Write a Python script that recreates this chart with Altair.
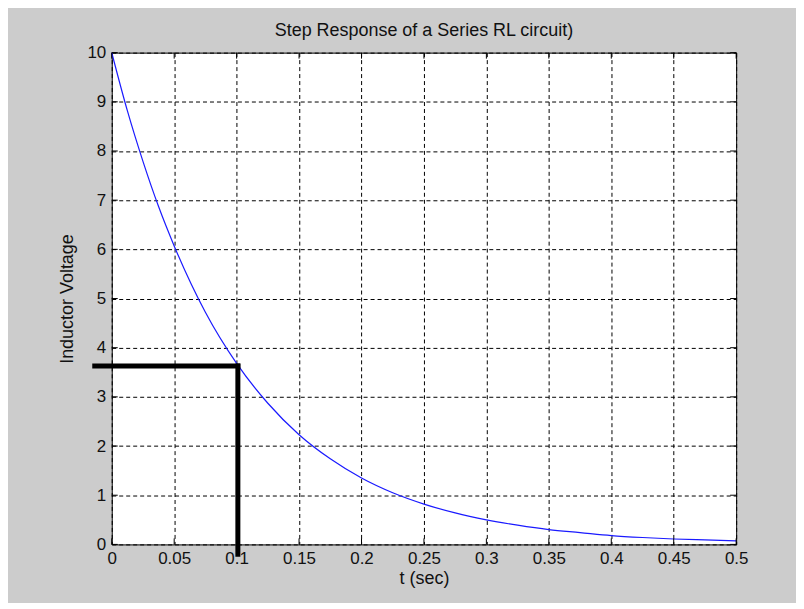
import altair as alt
import pandas as pd

# curve values
t_vals = [0, 0.0125, 0.025, 0.0375, 0.05, 0.075, 0.1, 0.125, 0.15, 0.175, 0.2, 0.225, 0.25,
          0.275, 0.3, 0.325, 0.35, 0.375, 0.4, 0.425, 0.45, 0.475, 0.5]
v_vals = [10, 8.82, 7.79, 6.87, 6.07, 4.72, 3.68, 2.87, 2.23, 1.74, 1.35, 1.05, 0.82,
          0.64, 0.50, 0.39, 0.30, 0.24, 0.18, 0.14, 0.11, 0.09, 0.07]

# thick black marker lines
seg_x = [-0.0136, 0.101]
seg_x2 = [0.101, 0.101]
seg_y = [3.63, 3.63]
seg_y2 = [3.63, -0.2]

x_ticks = [0, 0.05, 0.1, 0.15, 0.2, 0.25, 0.3, 0.35, 0.4, 0.45, 0.5]
y_ticks = [0, 1, 2, 3, 4, 5, 6, 7, 8, 9, 10]

FONT = "Liberation Sans"
LABEL_SIZE = 17
TITLE_SIZE = 18

curve = pd.DataFrame({"t": t_vals, "v": v_vals})
segs = pd.DataFrame({"x": seg_x, "x2": seg_x2, "y": seg_y, "y2": seg_y2})
xt = pd.DataFrame({"t": x_ticks})
yt = pd.DataFrame({"v": y_ticks})

xs = alt.Scale(domain=[0, 0.5], nice=False, zero=False)
ys = alt.Scale(domain=[0, 10], nice=False, zero=False)

line = alt.Chart(curve).mark_line(color="#1a1aff", strokeWidth=1.2, interpolate="monotone").encode(
    x=alt.X("t:Q", scale=xs, title="t (sec)",
            axis=alt.Axis(values=x_ticks, format="~g", grid=True, gridDash=[4, 3],
                          gridColor="black", gridOpacity=1, gridWidth=1,
                          ticks=False, domain=False, labelPadding=6, labelFlush=False,
                          labelFontSize=LABEL_SIZE, labelColor="#111", labelFont=FONT,
                          titleFontSize=TITLE_SIZE, titleFont=FONT, titleFontWeight="normal",
                          titleColor="#111", titlePadding=3)),
    y=alt.Y("v:Q", scale=ys, title="Inductor Voltage",
            axis=alt.Axis(values=y_ticks, grid=True, gridDash=[4, 3],
                          gridColor="black", gridOpacity=1, gridWidth=1,
                          ticks=False, domain=False, labelPadding=6, labelFlush=False,
                          labelFontSize=LABEL_SIZE, labelColor="#111", labelFont=FONT,
                          titleFontSize=TITLE_SIZE, titleFont=FONT, titleFontWeight="normal",
                          titleColor="#111", titlePadding=10)),
)

# inside tick marks (bottom/top and left/right)
xt_bottom = alt.Chart(xt).mark_rule(color="black", strokeWidth=1).encode(
    x=alt.X("t:Q", scale=xs), y=alt.value(493), y2=alt.value(487))
xt_top = alt.Chart(xt).mark_rule(color="black", strokeWidth=1).encode(
    x=alt.X("t:Q", scale=xs), y=alt.value(0), y2=alt.value(6))
yt_left = alt.Chart(yt).mark_rule(color="black", strokeWidth=1).encode(
    y=alt.Y("v:Q", scale=ys), x=alt.value(0), x2=alt.value(6))
yt_right = alt.Chart(yt).mark_rule(color="black", strokeWidth=1).encode(
    y=alt.Y("v:Q", scale=ys), x=alt.value(626), x2=alt.value(620))

marks = alt.Chart(segs).mark_rule(color="black", strokeWidth=5, clip=False, strokeCap="square").encode(
    x=alt.X("x:Q", scale=xs), x2="x2:Q",
    y=alt.Y("y:Q", scale=ys), y2="y2:Q",
)

chart = alt.layer(line, xt_bottom, xt_top, yt_left, yt_right, marks).properties(
    width=626, height=493,
    autosize=alt.AutoSizeParams(type="none"),
    padding={"left": 104, "top": 44, "right": 60, "bottom": 58},
    background="#cccccc",
    title=alt.TitleParams("Step Response of a Series RL circuit)", fontSize=TITLE_SIZE, font=FONT,
                          fontWeight="normal", color="#111", offset=4, anchor="middle"),
).configure_view(stroke="black", strokeWidth=1, fill="white")

chart.save("out.html", embed_options={"renderer": "svg", "actions": False})
